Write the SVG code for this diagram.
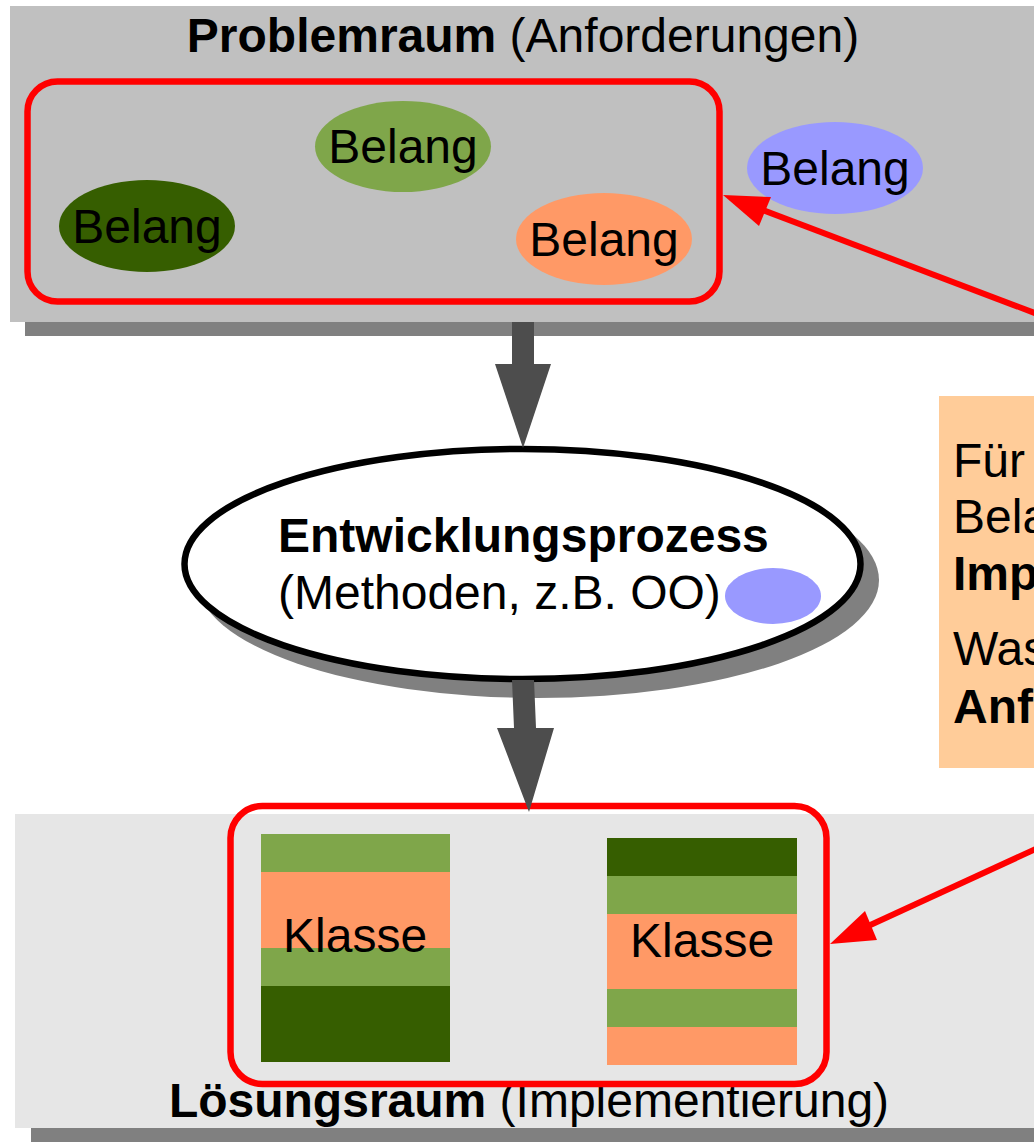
<svg xmlns="http://www.w3.org/2000/svg" width="1034" height="1142" viewBox="0 0 1034 1142">
<style>
text{font-family:"Liberation Sans",Arial,sans-serif;font-size:48px;fill:#000}
.b{font-weight:bold}
.red{fill:none;stroke:#ff0000;stroke-width:6.5}
.g1{fill:#7fa64a}.g2{fill:#365e00}.or{fill:#ff9966}.bl{fill:#9999ff}
.sh{fill:#808080}.ar{fill:#4d4d4d}
.rl{stroke:#ff0000;stroke-width:6;fill:none}.rh{fill:#ff0000}
</style>
<rect width="1034" height="1142" fill="#ffffff"/>
<g id="problemraum">
<rect class="sh" x="25" y="320" width="1015" height="16"/>
<rect x="10" y="6" width="1030" height="316" fill="#c0c0c0"/>
<text x="523" y="52" text-anchor="middle"><tspan class="b">Problemraum</tspan> (Anforderungen)</text>
</g>
<g id="belang-box">
<rect class="red" x="27.5" y="81.5" width="692" height="220" rx="30"/>
</g>
<g id="belang1"><ellipse class="g1" cx="403" cy="146.5" rx="88" ry="45.5"/><text x="403" y="163" text-anchor="middle">Belang</text></g>
<g id="belang2"><ellipse class="g2" cx="147" cy="226" rx="88" ry="46"/><text x="147" y="243" text-anchor="middle">Belang</text></g>
<g id="belang3"><ellipse class="or" cx="604" cy="239" rx="88" ry="46"/><text x="604" y="256" text-anchor="middle">Belang</text></g>
<g id="belang4"><ellipse class="bl" cx="835" cy="168" rx="88" ry="46"/><text x="835" y="185" text-anchor="middle">Belang</text></g>
<g id="entwicklungsprozess">
<ellipse class="sh" cx="538" cy="580" rx="341" ry="118"/>
<ellipse cx="522.5" cy="564" rx="338" ry="115" fill="#ffffff" stroke="#000" stroke-width="6.5"/>
<text class="b" x="278" y="552">Entwicklungsprozess</text>
<text x="278" y="609">(Methoden, z.B. OO)</text>
<ellipse class="bl" cx="773" cy="596" rx="48" ry="28"/>
</g>
<g id="note">
<rect x="939" y="396" width="100" height="372" fill="#ffcc99"/>
<text x="953" y="477">Für</text>
<text x="953" y="533">Belang</text>
<text class="b" x="953" y="590">Implementierung</text>
<text x="953" y="665">Was</text>
<text class="b" x="953" y="723">Anforderungen</text>
</g>
<g id="loesungsraum">
<rect class="sh" x="31" y="1127" width="1010" height="16"/>
<rect x="15" y="814" width="1025" height="314" fill="#e6e6e6"/>
<text x="529" y="1117" text-anchor="middle"><tspan class="b">Lösungsraum</tspan> (Implementierung)</text>
</g>
<g id="klassen-box"><rect class="red" x="230.5" y="806" width="596" height="278" rx="32"/></g>
<g id="klasse1">
<rect class="g1" x="261" y="834" width="189" height="38"/>
<rect class="or" x="261" y="872" width="189" height="76"/>
<rect class="g1" x="261" y="948" width="189" height="38"/>
<rect class="g2" x="261" y="986" width="189" height="76"/>
<text x="283" y="952">Klasse</text>
</g>
<g id="klasse2">
<rect class="g2" x="607" y="838" width="190" height="38"/>
<rect class="g1" x="607" y="876" width="190" height="38"/>
<rect class="or" x="607" y="914" width="190" height="75"/>
<rect class="g1" x="607" y="989" width="190" height="38"/>
<rect class="or" x="607" y="1027" width="190" height="38"/>
<text x="630" y="957">Klasse</text>
</g>
<g id="connectors">
<polygon class="ar" points="512,322 534,322 534,364 551,364 523,448 495,364 512,364"/>
<polygon class="ar" points="512,680 534,680 536,728 554,728 529,812 497,728 514,728"/>
<line class="rl" x1="1040" y1="315" x2="760" y2="209"/>
<polygon class="rh" points="723,195 771,197 759,226"/>
<line class="rl" x1="1040" y1="847" x2="866" y2="927"/>
<polygon class="rh" points="830,944 865,911 877,940"/>
</g>
</svg>
